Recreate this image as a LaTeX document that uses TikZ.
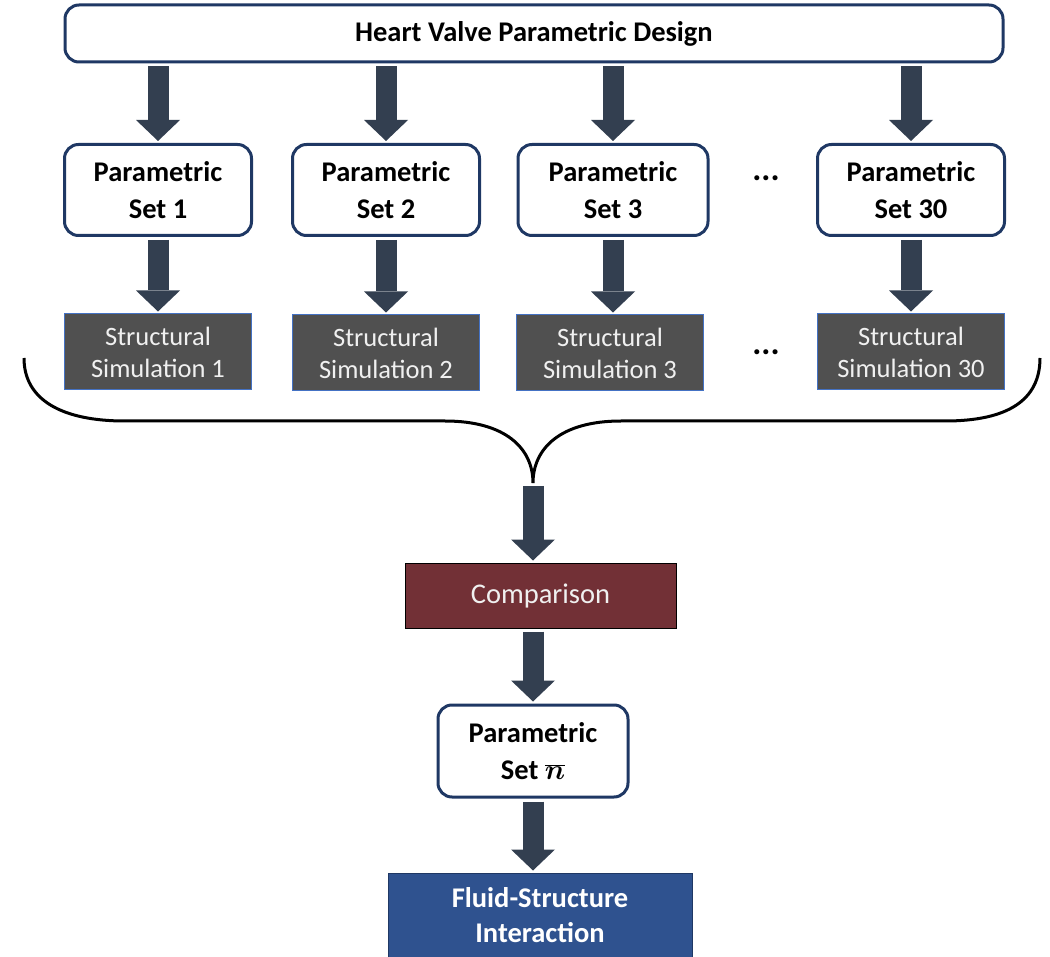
\documentclass[tikz,border=0pt]{standalone}
\usepackage{fix-cm}
\usepackage{fontspec}
\setmainfont{Carlito}
\usetikzlibrary{arrows.meta}
\definecolor{navy}{RGB}{31,56,100}
\definecolor{flowgray}{RGB}{51,63,80}
\definecolor{simgray}{RGB}{80,80,80}
\definecolor{simedge}{RGB}{68,114,196}
\definecolor{cmpred}{RGB}{114,48,54}
\definecolor{fsiblue}{RGB}{47,82,143}
\tikzset{
  setbox/.style={draw=navy,line width=3pt,rounded corners=14pt,fill=white,inner sep=0pt,
    minimum width=187pt,minimum height=91pt,align=center,font=\bfseries\fontsize{28.5}{37}\selectfont},
  simbox/.style={draw=simedge,line width=1pt,fill=simgray,text=white!94!black,inner sep=0pt,
    minimum width=187pt,minimum height=76pt,align=center,font=\fontsize{26.5}{32}\selectfont},
  flow/.style={draw=flowgray,line width=21pt,-{Triangle[length=21pt,width=44pt,line width=0pt]},
    shorten <=3pt,shorten >=2pt},
  dotstyle/.style={font=\bfseries\fontsize{34}{37}\selectfont},
}

\begin{document}
\begin{tikzpicture}[x=1pt,y=-1pt]
\useasboundingbox (0,0) rectangle (1050,957);
\node[setbox,minimum width=938pt,minimum height=57pt] (top) at (534,33.5) {Heart Valve Parametric Design};

\node[setbox] (set1) at (158,190) {Parametric\\Set 1};
\node[setbox] (set2) at (386,190) {Parametric\\Set 2};
\node[setbox,minimum width=190pt] (set3) at (613,190) {Parametric\\Set 3};
\node[setbox] (set30) at (911,190) {Parametric\\Set 30};
\node[dotstyle] (dotsA) at (766,178) {...};

\node[simbox] (sim1) at (158,352) {Structural\\Simulation 1};
\node[simbox] (sim2) at (386,353) {Structural\\Simulation 2};
\node[simbox] (sim3) at (610,353) {Structural\\Simulation 3};
\node[simbox] (sim30) at (911,352) {Structural\\Simulation 30};
\node[dotstyle] (dotsB) at (766,352) {...};

\foreach \s/\t in {set1/sim1,set2/sim2,set3/sim3,set30/sim30}{
  \draw[flow] (top.south -| \s.north) -- (\s.north);
  \draw[flow] (\s.south) -- (\s.south |- \t.north);
}

% brace
\coordinate (tip) at (533,483);
\draw[black,line width=3pt] (24,358) .. controls (24,400) and (62,421) .. (125,421) -- (445,421)
  .. controls (505,421) and (533,448) .. (tip)
  .. controls (533,448) and (561,421) .. (621,421) -- (945,421)
  .. controls (1008,421) and (1040,400) .. (1040,358);

\node[draw=black,line width=1pt,fill=cmpred,text=white!94!black,inner sep=0pt,minimum width=271pt,minimum height=65pt,
  font=\fontsize{28.5}{34}\selectfont] (cmp) at (540.5,595.5) {Comparison};
\node[setbox,minimum width=190pt,minimum height=92pt] (setn) at (533,751) {Parametric\\Set {\boldmath$\overline{n}$}};
\node[draw=navy,line width=1pt,fill=fsiblue,text=white,inner sep=0pt,minimum width=304pt,minimum height=84pt,align=center,
  font=\bfseries\fontsize{28.5}{35}\selectfont] (fsi) at (540,915) {Fluid-Structure\\Interaction};

\draw[flow] (tip) -- (tip |- cmp.north);
\draw[flow] (setn.north |- cmp.south) -- (setn.north);
\draw[flow] (setn.south) -- (setn.south |- fsi.north);
\end{tikzpicture}
\end{document}
